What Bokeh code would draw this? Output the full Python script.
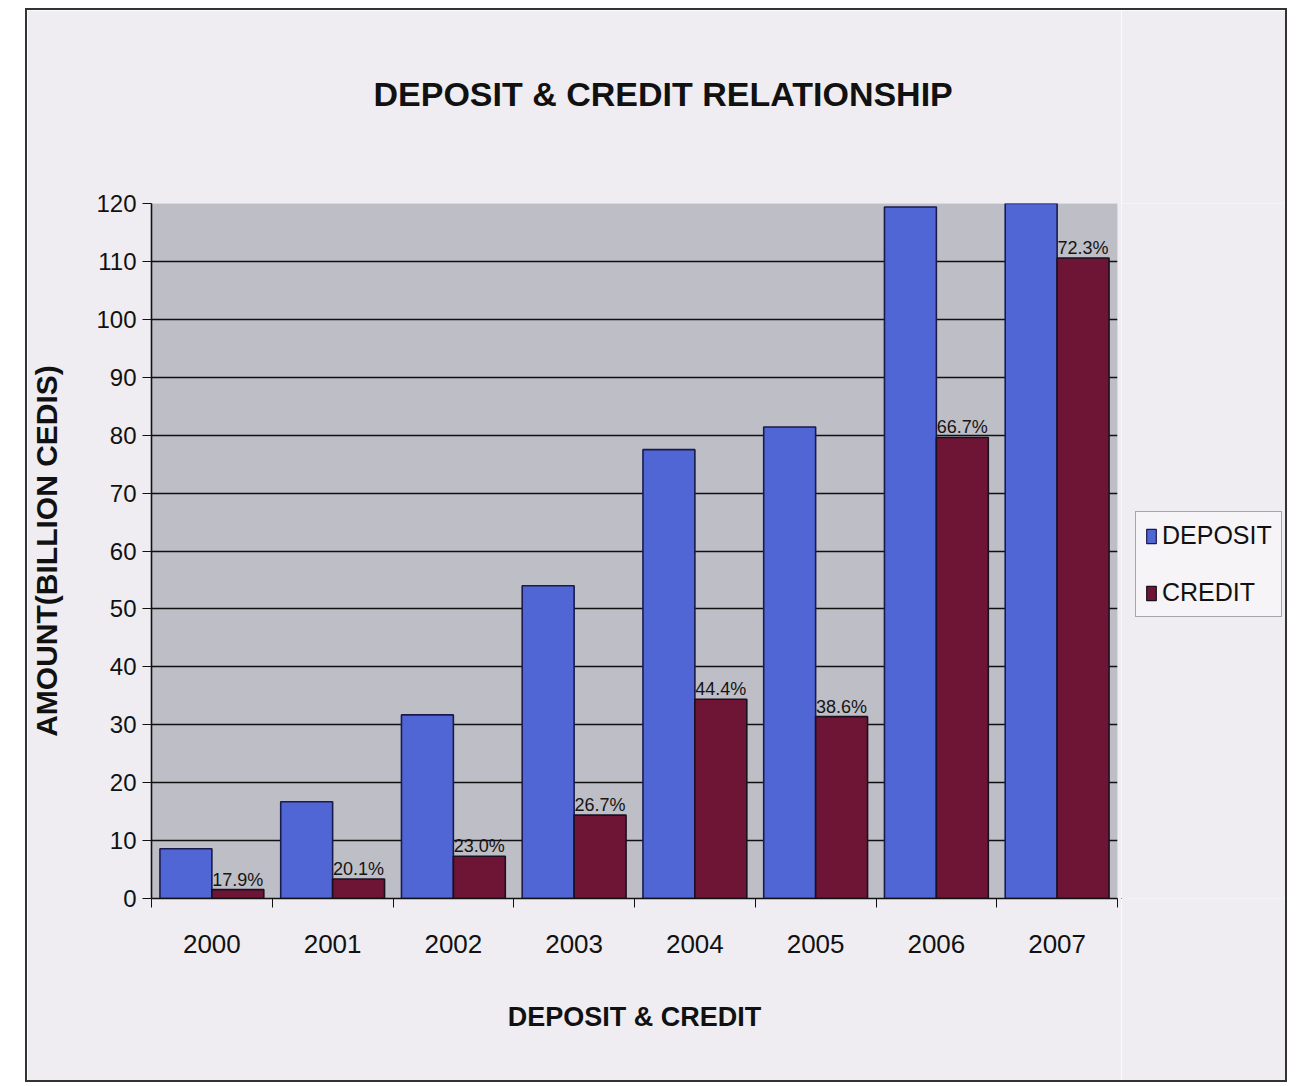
from bokeh.plotting import figure
from bokeh.layouts import row
from bokeh.models import (LinearAxis, FixedTicker, Range1d, ColumnDataSource, Legend,
                          LegendItem, Title)
from bokeh.transform import dodge
from bokeh.embed import file_html
from bokeh.resources import INLINE
from bokeh.core.properties import value

# ---------------- data ----------------
years = ["2000", "2001", "2002", "2003", "2004", "2005", "2006", "2007"]
deposit = [8.6, 16.7, 31.7, 54.0, 77.5, 81.4, 119.4, 153.0]
credit = [1.54, 3.36, 7.3, 14.4, 34.4, 31.4, 79.6, 110.6]
pct_labels = ["17.9%", "20.1%", "23.0%", "26.7%", "44.4%", "38.6%", "66.7%", "72.3%"]
y_ticks = [0, 10, 20, 30, 40, 50, 60, 70, 80, 90, 100, 110, 120]
series_names = ["DEPOSIT", "CREDIT"]

xc = [i + 0.5 for i in range(len(years))]
bounds = list(range(len(years) + 1))
src = ColumnDataSource(dict(xc=xc, deposit=deposit, credit=credit, pct=pct_labels))

FONT = "Liberation Sans"
BG = "#efedf1"
C_DEP, C_DEP_LINE = "#5066d4", "#1a1a4c"
C_CRE, C_CRE_LINE = "#6e1434", "#1a1020"

# layout host sits at (25, 8) with a 2px border -> canvas origin at (27, 10)
FL, FT = 121, 193          # frame left / top inside canvas
FW, FH = 969, 695          # frame size
H = 1070                   # canvas height
W1 = FL + FW + 4           # main figure width
W2 = 1258 - W1             # legend strip width

p = figure(width=W1, height=H, output_backend="svg", toolbar_location=None,
           x_range=Range1d(0, len(years)), y_range=Range1d(0, 120),
           x_axis_location=None,
           min_border_left=FL, min_border_right=W1 - FL - FW,
           min_border_top=FT, min_border_bottom=H - FT - FH,
           background_fill_color="#bebec6", border_fill_color=BG,
           outline_line_color=None)

p.xgrid.visible = False
p.ygrid.grid_line_color = "#111111"
p.ygrid.grid_line_width = 1.6

ya = p.yaxis[0]
ya.ticker = FixedTicker(ticks=y_ticks)
ya.major_label_text_font = FONT
ya.major_label_text_font_size = "24px"
ya.major_label_text_color = "#111111"
ya.major_tick_out = 9
ya.major_tick_in = 0
ya.major_tick_line_color = "#111111"
ya.minor_tick_line_color = None
ya.axis_line_color = "#111111"
ya.axis_line_width = 1.6
ya.major_label_standoff = 6
ya.axis_label = "AMOUNT(BILLION CEDIS)"
ya.axis_label_text_font = FONT
ya.axis_label_text_font_style = "bold"
ya.axis_label_text_font_size = "30px"
ya.axis_label_text_color = "#111111"
ya.axis_label_standoff = 30

ax1 = LinearAxis(ticker=FixedTicker(ticks=bounds),
                 major_label_overrides={b: "" for b in bounds},
                 major_tick_out=9, major_tick_in=0,
                 major_tick_line_color="#111111",
                 minor_tick_line_color=None,
                 axis_line_color="#111111", axis_line_width=1.6,
                 major_label_text_font_size="1px", major_label_standoff=0)
p.add_layout(ax1, "below")

ax2 = LinearAxis(ticker=FixedTicker(ticks=xc),
                 major_label_overrides={xc[i]: years[i] for i in range(len(years))},
                 major_tick_line_color=None, major_tick_out=0, major_tick_in=0,
                 minor_tick_line_color=None, axis_line_color=None,
                 major_label_text_font=FONT, major_label_text_font_size="26px",
                 major_label_text_color="#111111", major_label_standoff=27,
                 axis_label="DEPOSIT & CREDIT", axis_label_text_font=FONT,
                 axis_label_text_font_style="bold", axis_label_text_font_size="27px",
                 axis_label_text_color="#111111", axis_label_standoff=46)
p.add_layout(ax2, "below")

p.vbar(x=dodge("xc", -0.215), top="deposit", width=0.43, bottom=0,
       fill_color=C_DEP, line_color=C_DEP_LINE, line_width=1.6, source=src)
p.vbar(x=dodge("xc", 0.215), top="credit", width=0.43, bottom=0,
       fill_color=C_CRE, line_color=C_CRE_LINE, line_width=1.6, source=src)

p.text(x=dodge("xc", 0.215), y="credit", text="pct", source=src,
       text_align="center", text_baseline="bottom",
       text_font=value(FONT), text_font_size=value("18px"), text_color="#151515")

# trailing blank line lifts the title inside its panel
p.title = Title(text="DEPOSIT & CREDIT RELATIONSHIP\n ", align="left",
                text_font=FONT, text_font_size="34px", text_font_style="bold",
                text_color="#111111", standoff=105, offset=222)

# ---- legend strip (separate figure to the right of the plot) ----
p2 = figure(width=W2, height=H, output_backend="svg", toolbar_location=None,
            x_range=Range1d(0, 1), y_range=Range1d(0, 1),
            x_axis_location=None, y_axis_location=None, min_border=0,
            background_fill_color=BG, border_fill_color=BG, outline_line_color=None)
p2.grid.visible = False
# legend-key carriers: a single point kept outside the visible range
key_src = ColumnDataSource(dict(x=[-5.0], top=[-5.0]))
l1 = p2.vbar(x="x", top="top", width=0.1, source=key_src,
             fill_color=C_DEP, line_color=C_DEP_LINE, line_width=1.2)
l2 = p2.vbar(x="x", top="top", width=0.1, source=key_src,
             fill_color=C_CRE, line_color=C_CRE_LINE, line_width=1.2)

legend = Legend(items=[LegendItem(label=series_names[0], renderers=[l1]),
                       LegendItem(label=series_names[1], renderers=[l2])],
                location=(14, 281), margin=0, padding=9, spacing=28,
                glyph_width=12, glyph_height=18,
                label_text_font=FONT, label_text_font_size="25px",
                label_text_color="#111111", label_standoff=5,
                border_line_color="#555555", border_line_width=1.5,
                background_fill_color="#f6f4f6", background_fill_alpha=1.0)
p2.add_layout(legend)

layout = row(p, p2, spacing=0,
             styles={"margin-left": "25px", "margin-top": "8px",
                     "border": "2px solid #333333"})

html = file_html(layout, INLINE)
html = html.replace("<body>", '<body style="margin:0;background:%s;">' % BG, 1)
open("out.html", "w").write(html)
